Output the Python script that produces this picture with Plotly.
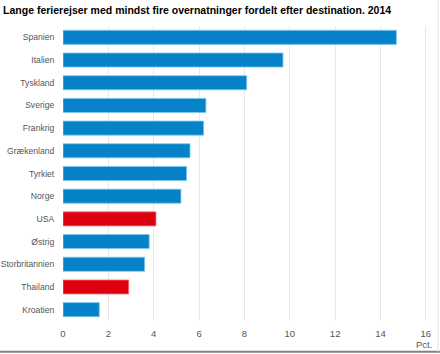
import plotly.graph_objects as go

countries = ["Spanien", "Italien", "Tyskland", "Sverige", "Frankrig", "Grækenland",
             "Tyrkiet", "Norge", "USA", "Østrig", "Storbritannien", "Thailand", "Kroatien"]
values = [14.7, 9.7, 8.1, 6.3, 6.2, 5.6, 5.45, 5.2, 4.1, 3.8, 3.6, 2.9, 1.6]
highlight = ["USA", "Thailand"]
x_ticks = [0, 2, 4, 6, 8, 10, 12, 14, 16]

BLUE = "#0682c8"
RED = "#dd0011"
colors = [RED if c in highlight else BLUE for c in countries]
edge = ["#f08080" if c in highlight else "#7cc8ef" for c in countries]
FONT = "Liberation Sans, Arial, sans-serif"

fig = go.Figure(go.Bar(
    x=values, y=countries, orientation="h",
    marker=dict(color=colors, line=dict(color=edge, width=0.8)),
    hoverinfo="x+y",
))

fig.update_layout(
    width=440, height=354,
    margin=dict(l=63, r=13, t=26, b=33, autoexpand=False),
    paper_bgcolor="white", plot_bgcolor="white",
    bargap=0.38,
    showlegend=False,
    font=dict(family=FONT, size=9, color="#555555"),
    title=dict(text="<b>Lange ferierejser med mindst fire overnatninger fordelt efter destination. 2014</b>",
               x=0.007, xanchor="left", y=0.972, yanchor="middle",
               font=dict(size=10.5, color="#000000", family=FONT)),
    xaxis=dict(range=[0, 16.05], tickvals=x_ticks, ticktext=[str(t) for t in x_ticks],
               showgrid=True, gridcolor="#e8e8e8", gridwidth=1, zeroline=False,
               showline=False, ticks="outside", ticklen=4, tickcolor="rgba(0,0,0,0)",
               tickfont=dict(size=9.5, color="#555555", family=FONT),
               automargin=False, fixedrange=True),
    yaxis=dict(categoryorder="array", categoryarray=countries[::-1], autorange=False,
               range=[-0.5, len(countries) - 0.5],
               showgrid=False, zeroline=False, showline=False, ticks="outside",
               ticklen=6, tickcolor="rgba(0,0,0,0)", automargin=False,
               tickfont=dict(size=8.6, color="#555555", family=FONT)),
    annotations=[dict(text="Pct.", xref="paper", yref="paper", x=1.02, y=-0.08,
                      xanchor="right", yanchor="middle", showarrow=False,
                      font=dict(size=9.5, color="#555555", family=FONT))],
    shapes=[
        dict(type="line", xref="paper", yref="paper", x0=-0.2, x1=1.04, y0=-0.104, y1=-0.104,
             line=dict(color="#7a8088", width=2)),
        dict(type="line", xref="paper", yref="paper", x0=1.0305, x1=1.0305, y0=-0.104, y1=1.1,
             line=dict(color="#e2e2e2", width=1)),
    ],
)

fig.write_html("out.html")
